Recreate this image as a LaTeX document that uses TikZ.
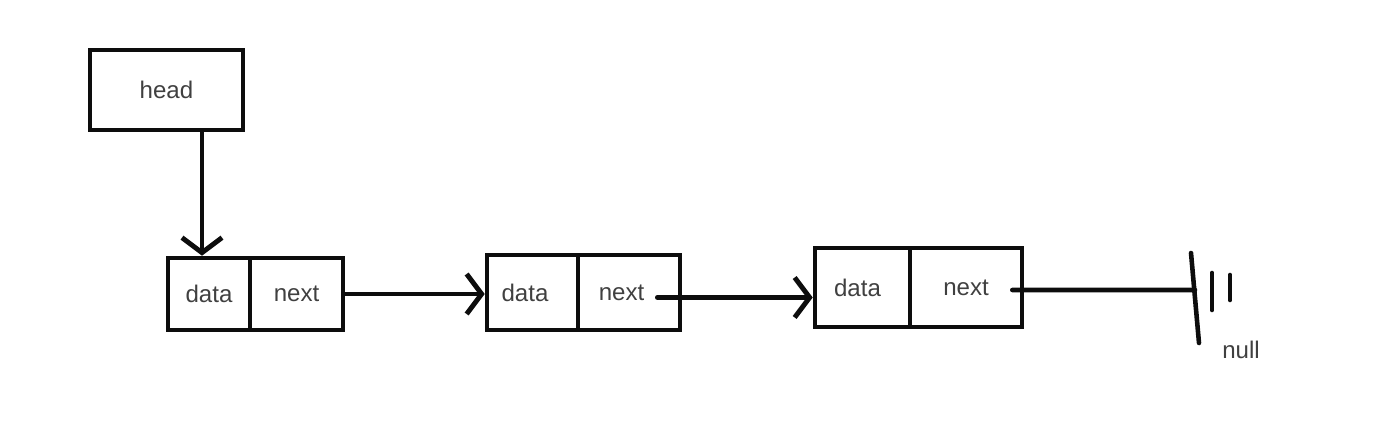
\documentclass[tikz,border=0pt]{standalone}
\usepackage{fontspec}
\setmainfont{Liberation Sans}
\usetikzlibrary{arrows.meta}
\definecolor{ink}{rgb}{0.05,0.05,0.05}
\definecolor{label}{rgb}{0.25,0.25,0.25}

\begin{document}
\begin{tikzpicture}[x=0.02cm,y=-0.02cm,
    every node/.style={font=\fontsize{13.7}{16}\selectfont,text=label},
    cell/.style={draw=ink,line width=2.6pt,inner sep=0pt,minimum height=#1},
    link/.style={draw=ink,line width=2.6pt,line cap=round,
      -{Straight Barb[length=0.3cm,width=0.8cm,line width=2.8pt]}},
    wire/.style={draw=ink,line width=2.6pt,line cap=round},
  ]
  \useasboundingbox (0,0) rectangle (1386,432);
  % head pointer
  \node[cell=1.6cm,minimum width=3.06cm] (head) at (166.5,90) {head};
  % list nodes
  \node[cell=1.44cm,minimum width=1.64cm] (data1) at (209,294) {data};
  \node[cell=1.44cm,minimum width=1.86cm] (next1) at (296.5,294) {next};
  \node[cell=1.5cm,minimum width=1.82cm] (data2) at (532.5,292.5) {data\hspace*{0.3cm}};
  \node[cell=1.5cm,minimum width=2.04cm] (next2) at (629,292.5) {next\hspace*{0.3cm}};
  \node[cell=1.58cm,minimum width=1.9cm] (data3) at (862.5,287.5) {data\hspace*{0.2cm}};
  \node[cell=1.58cm,minimum width=2.24cm] (next3) at (966,287.5) {next};
  % null
  \coordinate (ground) at (1195,290);
  \node (null) at (1241,350) {null};
  % links
  \draw[link] ([xshift=-0.14cm]head.south -| data1.north) -- ([xshift=-0.14cm]data1.north);
  \draw[link] (next1.east) -- (next1.east -| data2.west);
  \coordinate (tail2) at ([xshift=-0.5cm,yshift=-0.1cm]next2.east);
  \draw[link] (tail2) -- (tail2 -| data3.west);
  \coordinate (tail3) at ([xshift=-0.24cm,yshift=-0.05cm]next3.east);
  \draw[wire] (tail3) -- (ground);
  \draw[wire] (1191,253) -- (1199,343);
  \draw[wire] (1212,273) -- (1212,310);
  \draw[wire] (1230,275) -- (1230,300);
\end{tikzpicture}
\end{document}
